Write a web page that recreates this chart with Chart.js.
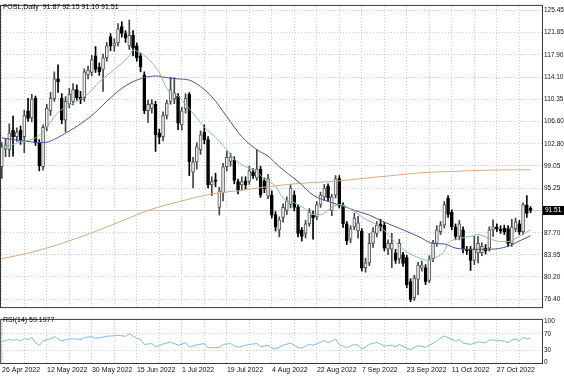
<!DOCTYPE html>
<html><head><meta charset="utf-8">
<script src="https://cdn.jsdelivr.net/npm/chart.js@4/dist/chart.umd.min.js"></script>
<style>
html,body{margin:0;padding:0;background:#fff;}
#wrap{position:relative;width:564px;height:376px;overflow:hidden;background:#fff;}
#c1{position:absolute;left:0;top:0;}
#c2{position:absolute;left:0;top:314px;}
</style></head><body>
<div id="wrap"><canvas id="c1" width="564" height="314"></canvas><canvas id="c2" width="564" height="62"></canvas></div>
<script>
// ---- data ----
const symbolTitle = 'FOSL,Daily';
const dates = ['26 Apr 2022','12 May 2022','30 May 2022','15 Jun 2022','1 Jul 2022','19 Jul 2022','4 Aug 2022','22 Aug 2022','7 Sep 2022','23 Sep 2022','11 Oct 2022','27 Oct 2022'];
const dateIdx = [0,12,24,36,48,60,72,84,96,108,120,132];
const gridIdx = [0,6,12,18,24,30,36,42,48,54,60,66,72,78,84,90,96,102,108,114,120,126,132,138];
const priceTicks = [76.40,80.20,83.95,87.70,91.45,95.25,99.05,102.80,106.60,110.35,114.10,117.90,121.65,125.45];
const rsiTicks = [0,30,70,100];

const openP = [98.9,101.9,101.8,105.1,104.0,105.1,104.0,108.4,107.2,110.5,
103.0,98.9,105.6,108.4,110.5,113.8,110.5,106.8,109.5,110.0,
112.0,110.7,110.6,114.5,114.9,117.7,115.8,115.4,117.4,121.0,
119.4,119.9,122.7,121.5,119.4,121.2,119.4,117.7,114.5,108.4,
108.8,109.5,104.6,104.0,107.6,110.0,110.4,110.9,106.0,108.7,
111.2,98.0,99.7,101.8,104.8,103.5,95.8,96.7,92.0,94.5,
98.9,99.8,100.0,96.4,95.8,96.5,96.4,98.0,97.0,98.5,
96.5,93.9,94.1,90.8,88.2,90.3,91.5,92.5,94.1,92.0,
88.2,87.6,89.2,90.8,90.4,92.5,93.8,95.6,91.4,94.1,
96.9,92.3,89.2,86.6,88.7,88.0,88.0,81.8,82.6,85.9,
87.6,89.2,89.0,84.9,84.9,84.3,83.3,84.0,83.5,79.4,
76.7,79.8,81.7,81.8,79.6,83.3,85.9,87.9,89.0,93.6,
91.2,88.7,87.1,88.2,84.9,84.9,83.0,84.3,84.3,85.1,
85.1,88.2,88.7,88.3,88.5,88.4,85.9,88.4,89.2,87.9,
92.4,91.87];
const highP = [103.0,103.6,106.2,107.5,105.5,105.8,108.5,110.5,111.2,110.9,
103.5,106.0,109.5,111.5,115.0,116.2,111.3,110.8,112.2,113.0,
112.8,111.7,115.5,116.0,117.8,119.3,116.5,118.0,120.0,121.5,
120.6,123.2,123.5,122.0,123.8,122.0,119.9,118.2,115.0,110.2,
110.3,110.0,105.3,108.2,110.2,114.1,114.0,111.3,109.0,111.3,
111.5,100.5,103.0,105.0,106.0,104.0,97.2,97.8,95.4,99.5,
101.5,101.2,100.6,96.8,97.2,97.2,99.0,98.6,101.8,99.0,
97.0,97.6,94.8,91.3,90.4,92.6,93.8,95.9,94.8,92.5,
88.6,89.8,91.8,91.4,93.0,94.6,95.9,96.0,94.2,97.4,
97.4,92.8,89.6,88.9,91.0,90.5,88.4,83.4,87.6,88.6,
89.6,90.0,89.5,86.5,87.6,84.9,86.6,84.4,83.9,79.9,
80.5,82.7,82.9,82.3,83.8,86.4,88.9,89.6,93.0,94.0,
91.6,89.2,89.8,88.7,85.4,85.4,87.1,87.1,86.0,85.7,
88.7,89.9,89.2,88.9,89.0,88.9,90.0,90.2,89.8,92.8,
94.0,92.15];
const lowP = [96.9,100.6,100.6,100.7,103.2,102.7,101.3,106.6,106.5,102.5,
98.2,98.3,105.0,107.6,110.0,111.5,106.2,104.8,108.9,109.4,
110.2,109.6,110.0,113.8,114.3,114.9,114.4,111.7,116.8,118.6,
118.5,119.4,120.9,120.0,118.8,117.7,116.8,115.0,107.9,106.4,
108.0,101.5,102.8,103.3,107.0,109.5,109.6,105.2,105.1,108.0,
97.4,95.3,98.5,101.0,102.8,95.3,94.0,95.5,90.7,93.1,
98.2,99.0,96.0,94.3,95.0,95.1,95.9,96.9,96.6,93.7,
94.5,93.5,90.2,88.0,87.0,89.5,90.8,91.9,91.4,87.0,
86.3,86.8,88.8,86.6,89.9,92.0,93.2,93.0,90.6,93.6,
91.9,88.6,85.7,86.0,88.2,86.8,81.2,81.0,82.1,85.2,
87.0,88.0,84.6,84.0,81.8,82.5,82.5,82.0,78.4,76.0,
76.2,77.2,81.2,78.9,79.2,82.8,85.4,87.4,88.5,90.3,
88.2,86.5,86.5,84.3,84.0,81.3,82.3,82.6,83.8,84.1,
84.6,87.1,87.9,87.6,87.4,85.4,85.4,87.9,87.4,87.4,
90.3,91.10];
const closeP = [102.3,102.6,104.6,104.0,104.8,103.5,107.6,107.1,110.4,103.0,
99.1,105.6,108.8,110.5,113.8,113.3,106.8,110.0,111.2,112.0,
110.6,110.3,115.0,115.3,117.1,115.4,115.0,117.4,119.4,119.4,
119.9,122.3,121.5,120.7,121.2,119.0,117.4,115.8,108.4,109.5,
109.6,104.3,103.9,107.6,109.7,112.0,111.4,106.3,108.4,110.5,
99.7,99.7,102.3,104.3,103.5,95.8,96.4,96.4,94.8,98.9,
100.5,100.6,96.6,94.8,96.4,95.8,98.2,97.4,98.5,94.1,
95.2,96.9,90.7,88.7,89.9,92.0,93.1,95.3,92.0,87.6,
87.1,89.2,91.2,90.2,92.5,94.1,95.3,93.6,93.8,96.9,
92.3,89.2,86.3,88.4,90.2,89.4,81.7,82.6,85.9,87.9,
89.0,88.7,85.1,85.9,85.9,83.0,85.9,82.5,78.9,76.4,
80.0,82.2,82.2,79.4,83.3,85.9,88.2,89.0,92.5,90.8,
88.7,87.1,89.2,84.9,84.6,83.0,84.9,85.9,85.4,84.6,
88.2,88.7,88.4,88.0,87.9,85.9,88.7,89.5,87.9,92.5,
91.0,91.51];

// moving averages (bar index -> value)
const maFastIdx = [0,5,9,11,15,20,23,26,30,34,35,37,40,42,44,47,49,52,54,57,60,62,65,68,70,73,75,78,81,83,85,88,90,93,97,101,104,107,111,114,116,118,119,122,125,127,130,133,135,138,141];
const maFast = [102.1,103.1,103.8,104.8,108.1,110.0,111.3,113.3,115.4,117.7,118.7,118.2,116.6,114.9,112.2,110.9,109.5,107.2,105.6,103.9,101.8,100.2,98.9,98.1,96.8,95.6,93.6,92.8,91.7,90.8,90.8,92.0,92.5,91.7,90.0,88.7,86.7,84.9,83.5,83.0,83.6,84.6,85.9,86.7,87.1,87.4,86.7,86.2,86.2,87.1,88.2];
const maMidIdx = [0,8,11,17,24,28,32,36,41,44,47,50,53,56,60,64,68,71,74,79,83,88,92,94,98,102,107,111,115,118,121,126,130,135,138,141];
const maMid = [103.8,103.1,103.0,104.6,107.6,110.0,112.2,113.6,114.3,114.0,113.8,113.6,112.5,110.8,107.4,104.0,101.8,100.7,98.9,96.4,94.1,92.8,92.0,91.5,90.7,89.5,88.2,87.1,85.9,85.8,85.1,84.9,84.9,85.4,86.3,87.2];
const maSlowIdx = [0,8,16,24,32,40,48,56,64,72,80,88,96,104,112,120,128,141];
const maSlow = [83.3,84.4,85.9,87.7,89.7,91.7,93.1,94.3,94.9,95.6,96.1,96.4,96.9,97.4,97.9,98.1,98.3,98.4];

const rsiIdx = [0,2,3,4,5,6,7,8,9,10,11,13,14,16,17,19,21,22,24,25,27,28,31,33,34,35,36,37,38,40,41,43,45,47,49,50,52,54,55,57,58,59,61,62,63,66,68,69,71,72,73,75,77,79,80,82,83,86,87,89,90,92,94,95,96,98,100,102,104,105,106,108,109,111,113,115,118,120,121,122,123,125,127,129,130,132,134,135,136,137,138,139,140,141];
const rsiVal = [51,56,54,56,52,58,56,61,47,42,53,58,63,52,56,58,56,61,63,59,62,64,66,64,70,64,59,56,44,46,38,45,50,42,48,37,43,46,36,36,37,44,46,40,37,44,46,38,42,35,33,42,47,36,35,44,42,53,48,57,43,36,44,42,32,44,49,40,42,38,44,34,31,41,37,47,65,56,52,56,47,44,50,48,55,54,52,48,55,57,53,61,58,59.1977];

// ---- build ----
const FAM = "'Liberation Sans', Arial, sans-serif";
const FS = 6.5;
const FS_X = 7;
const FONT = '7px ' + FAM;
Chart.defaults.font.family = FAM;
Chart.defaults.font.size = FS;
Chart.defaults.color = '#111';

const N = closeP.length;
const last = N - 1;
const xMin = -0.21, xMax = 144.05;
const GRID = '#c8c8c8';
const isBull = i => closeP[i] >= openP[i];
const bodies = closeP.map((c, i) => ({x: i, y: [openP[i], c]}));
const wicks = closeP.map((c, i) => ({x: i, y: [lowP[i], highP[i]]}));
const pts = (ix, v) => ix.map((x, k) => ({x: x, y: v[k]}));

const framePlugin = {
  id: 'frame',
  afterDraw(chart) {
    const {ctx, chartArea: a} = chart;
    ctx.save(); ctx.strokeStyle = '#3a3a3a'; ctx.lineWidth = 1;
    ctx.strokeRect(a.left - 0.5, a.top - 0.5, a.right - a.left + 1, a.bottom - a.top);
    ctx.restore();
  }
};
function textPlugin(id, txt, x, y) {
  return { id: id, afterDraw(chart) {
    const ctx = chart.ctx; ctx.save(); ctx.font = FONT; ctx.fillStyle = '#000';
    ctx.textBaseline = 'top'; ctx.textAlign = 'left'; ctx.fillText(txt, x, y); ctx.restore();
  }};
}
const bidPlugin = {
  id: 'bid',
  beforeDatasetsDraw(chart) {
    const {ctx, chartArea: a} = chart;
    const y = Math.round(chart.scales.y.getPixelForValue(closeP[last])) + 0.5;
    ctx.save(); ctx.strokeStyle = '#c8c8c8'; ctx.lineWidth = 1;
    ctx.beginPath(); ctx.moveTo(a.left, y); ctx.lineTo(a.right, y); ctx.stroke(); ctx.restore();
  },
  afterDraw(chart) {
    const {ctx, chartArea: a} = chart;
    const y = Math.round(chart.scales.y.getPixelForValue(closeP[last]));
    ctx.save(); ctx.fillStyle = '#000'; ctx.fillRect(a.right + 1, y - 4, 564 - a.right - 1, 9);
    ctx.fillStyle = '#fff'; ctx.font = FS + 'px ' + FAM; ctx.textBaseline = 'middle'; ctx.textAlign = 'left';
    ctx.fillText(closeP[last].toFixed(2), a.right + 3, y + 0.5); ctx.restore();
  }
};

const lineDs = (data, color, order) => ({type: 'line', data: data, borderColor: color, borderWidth: 1,
  pointRadius: 0, fill: false, cubicInterpolationMode: 'monotone', order: order});

new Chart(document.getElementById('c1'), {
  type: 'bar',
  data: { datasets: [
    {type: 'bar', data: wicks, backgroundColor: c => isBull(c.dataIndex) ? '#444' : '#000',
      barThickness: 1, grouped: false, order: 5},
    {type: 'bar', data: bodies, backgroundColor: c => isBull(c.dataIndex) ? '#efefef' : '#000',
      borderColor: c => isBull(c.dataIndex) ? '#555' : '#000', borderWidth: 1, borderSkipped: false,
      barThickness: 3, grouped: false, minBarLength: 1, order: 4},
    lineDs(pts(maSlowIdx, maSlow), '#d9aa84', 3),
    lineDs(pts(maMidIdx, maMid), '#4f4f9c', 2),
    lineDs(pts(maFastIdx, maFast), '#86c298', 1)
  ]},
  options: {
    responsive: false, animation: false, devicePixelRatio: 1, events: [],
    layout: {autoPadding: false, padding: {left: 1, top: 2, right: 0, bottom: 0}},
    plugins: {legend: {display: false}, tooltip: {enabled: false}},
    scales: {
      x: {type: 'linear', min: xMin, max: xMax, offset: false,
        afterBuildTicks: s => { s.ticks = gridIdx.map(v => ({value: v})); },
        ticks: {display: false}, grid: {color: GRID, drawTicks: false, offset: false},
        border: {display: false, dash: [1, 2]}, afterFit: s => { s.height = 0; }},
      y: {type: 'linear', position: 'right', min: 74.92, max: 126.19, beginAtZero: false,
        afterBuildTicks: s => { s.ticks = priceTicks.map(v => ({value: v})); },
        ticks: {callback: v => Number(v).toFixed(2), padding: 2, color: '#111', font: {size: FS}},
        grid: {color: GRID, drawTicks: false}, border: {display: false, dash: [1, 2]},
        afterFit: s => { s.width = 22; }}
    }
  },
  plugins: [bidPlugin, framePlugin,
    textPlugin('t1', symbolTitle + '  ' + openP[last].toFixed(2) + ' ' + highP[last].toFixed(2) + ' ' + lowP[last].toFixed(2) + ' ' + closeP[last].toFixed(2), 3, 4)]
});

new Chart(document.getElementById('c2'), {
  type: 'line',
  data: { datasets: [
    {data: pts(rsiIdx, rsiVal), borderColor: '#80bbe2', borderWidth: 1, pointRadius: 0, fill: false, tension: 0}
  ]},
  options: {
    responsive: false, animation: false, devicePixelRatio: 1, events: [],
    layout: {autoPadding: false, padding: {left: 1, top: 1, right: 0, bottom: 0}},
    plugins: {legend: {display: false}, tooltip: {enabled: false}},
    scales: {
      x: {type: 'linear', min: xMin, max: xMax, offset: false,
        afterBuildTicks: s => { s.ticks = gridIdx.map(v => ({value: v})); },
        ticks: {autoSkip: false, maxRotation: 0, minRotation: 0, align: 'start', padding: 2, color: '#111', font: {size: FS_X},
          callback: v => { const k = dateIdx.indexOf(v); return k < 0 ? '' : dates[k]; }},
        grid: {color: GRID, drawTicks: false, offset: false}, border: {display: false, dash: [1, 2]},
        afterFit: s => { s.height = 12; }},
      y: {type: 'linear', position: 'right', min: -4.4, max: 104.4,
        afterBuildTicks: s => { s.ticks = rsiTicks.map(v => ({value: v})); },
        ticks: {callback: v => String(v), padding: 2, color: '#111'},
        grid: {color: c => (c.tick && (c.tick.value === 30 || c.tick.value === 70)) ? GRID : 'rgba(0,0,0,0)', drawTicks: false},
        border: {display: false, dash: [1, 2]}, afterFit: s => { s.width = 22; }}
    }
  },
  plugins: [framePlugin, textPlugin('t2', 'RSI(14) ' + rsiVal[rsiVal.length - 1].toFixed(4), 3, 3)]
});
</script>
</body></html>
